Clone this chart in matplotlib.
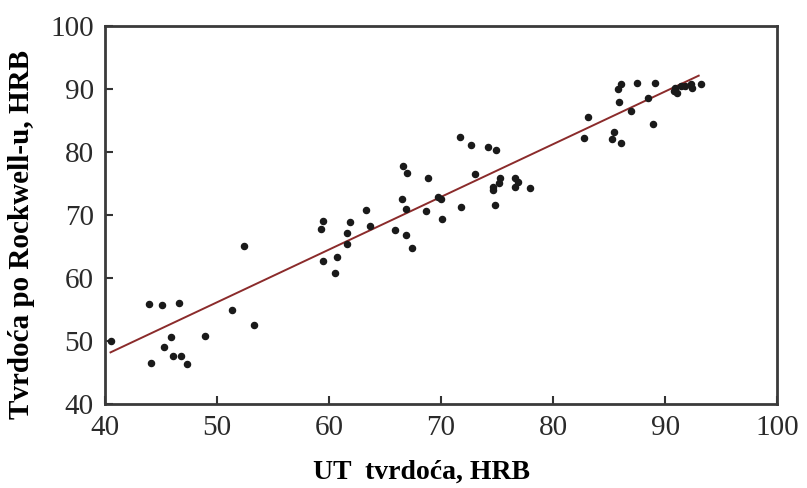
import numpy as np
import matplotlib
import matplotlib.pyplot as plt

matplotlib.rcParams['font.family'] = 'serif'
matplotlib.rcParams['font.serif'] = ['Liberation Serif', 'DejaVu Serif']

# measured points: UT hardness (x) vs Rockwell hardness (y), HRB
ut_hrb = [40.5, 43.9, 45.1, 46.6, 51.3, 52.4, 53.3, 45.9, 48.9, 45.3, 46.1, 46.8, 44.1, 47.3,
          59.5, 59.3, 61.9, 61.6, 61.6, 63.3, 63.7, 59.5, 60.7, 60.5,
          66.6, 67.0, 66.5, 66.9, 65.9, 66.9, 67.4, 68.8, 68.7, 69.7, 70.0, 70.1,
          71.7, 72.7, 71.8, 73.0, 74.2, 74.9, 75.3, 74.6, 74.6, 75.2, 74.8,
          76.6, 76.9, 76.6, 77.9,
          83.1, 82.8, 85.4, 85.3, 86.1, 85.9, 85.8, 86.1, 87.5, 89.1, 88.5, 87.0, 88.9,
          90.9, 91.1, 90.8, 91.4, 92.3, 92.4, 93.2, 91.8]
rockwell_hrb = [50.0, 55.8, 55.7, 56.0, 54.9, 65.1, 52.6, 50.6, 50.8, 49.1, 47.7, 47.7, 46.5, 46.3,
                69.0, 67.7, 68.9, 67.2, 65.4, 70.8, 68.3, 62.7, 63.3, 60.8,
                77.7, 76.6, 72.5, 71.0, 67.6, 66.9, 64.7, 75.8, 70.7, 72.9, 72.5, 69.4,
                82.3, 81.1, 71.2, 76.5, 80.8, 80.3, 75.9, 74.5, 74.0, 75.0, 71.6,
                75.8, 75.3, 74.4, 74.3,
                85.5, 82.2, 83.2, 82.1, 81.4, 88.0, 90.0, 90.7, 90.9, 90.9, 88.6, 86.5, 84.5,
                90.2, 89.4, 89.7, 90.5, 90.7, 90.2, 90.7, 90.5]

# regression line end points
fit_x = [40.5, 93.0]
fit_y = [48.2, 92.1]

fig = plt.figure(figsize=(8.07, 4.88), dpi=100)
ax = fig.add_axes([0.130, 0.172, 0.833, 0.775])

ax.plot(ut_hrb, rockwell_hrb, 'o', color='#1a1a1a', markersize=4.4, zorder=3)
ax.plot(fit_x, fit_y, '-', color='#8b2b2b', linewidth=1.4, zorder=2)

ax.set_xlim(40, 100)
ax.set_ylim(40, 100)
ax.xaxis.set_ticks(np.arange(40, 101, 10))
ax.yaxis.set_ticks(np.arange(40, 101, 10))

ax.set_xlabel('UT  tvrdoća, HRB', fontsize=20, fontweight='bold')
ax.set_ylabel('Tvrdoća po Rockwell-u, HRB', fontsize=21, fontweight='bold')
ax.xaxis.set_label_coords(0.522, 0.058, transform=fig.transFigure)
ax.yaxis.set_label_coords(0.043, 0.52, transform=fig.transFigure)

ax.tick_params(which='major', direction='in', length=6, width=1.5, colors='#333333',
               labelsize=21, labelcolor='#2a2a2a')
ax.tick_params(axis='x', pad=8)
ax.tick_params(axis='y', pad=8)
for side in ax.spines.values():
    side.set_linewidth(2.0)
    side.set_color('#3a3a3a')

plt.savefig('out.png', dpi=100)
